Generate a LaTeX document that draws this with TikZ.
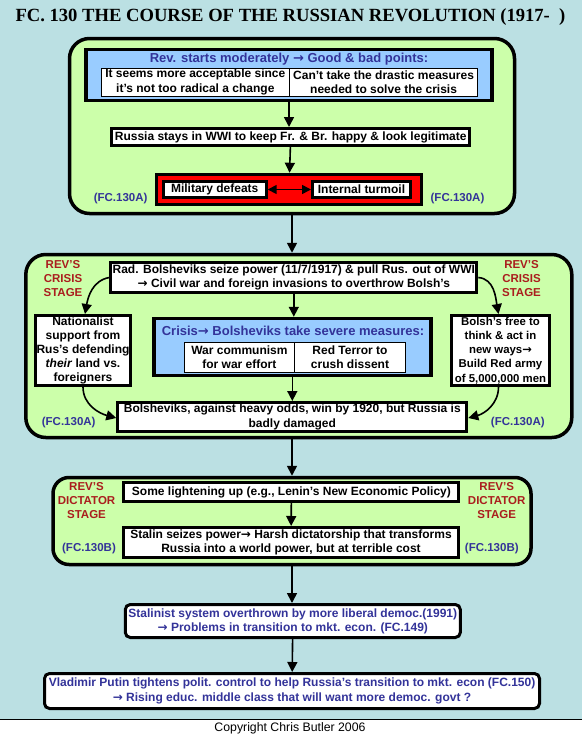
\documentclass[tikz,border=0pt]{standalone}
\usepackage{fontspec}
\setmainfont{Liberation Sans}
\newfontfamily\titlefont{Liberation Serif}
\newfontfamily\arrowfont{DejaVu Sans}
\newcommand{\goesto}{{\arrowfont\bfseries →}}
\usepackage{tikz}
\usetikzlibrary{shapes.geometric, arrows.meta}
\definecolor{bgteal}{RGB}{187,224,227}
\definecolor{stagegreen}{RGB}{204,255,170}
\definecolor{boxblue}{RGB}{153,204,255}
\definecolor{headblue}{RGB}{51,51,153}
\definecolor{labelred}{RGB}{170,30,30}
\tikzstyle{stage} = [rectangle, rounded corners=20pt, draw=black, line width=3.5pt, fill=stagegreen]
\tikzstyle{whitebox} = [rectangle, draw=black, line width=3pt, fill=white, align=center, inner sep=1pt, font=\bfseries\fontsize{12}{14.2}\selectfont]
\tikzstyle{bluebox} = [rectangle, draw=black, line width=3.5pt, fill=boxblue]
\tikzstyle{redbox} = [rectangle, draw=black, line width=3.5pt, fill=red]
\tikzstyle{cell} = [rectangle, draw=black, line width=0.8pt, fill=white, align=center, inner sep=1pt, font=\bfseries\fontsize{12}{14.2}\selectfont]
\tikzstyle{bluehead} = [text=headblue, font=\bfseries\fontsize{13}{15}\selectfont]
\tikzstyle{stagelabel} = [text=labelred, align=center, font=\bfseries\fontsize{11.5}{14}\selectfont]
\tikzstyle{fclabel} = [text=headblue, font=\bfseries\fontsize{11.5}{13}\selectfont]
\tikzstyle{arrow} = [line width=1.6pt, -{Triangle[length=10pt,width=10pt]}]
\tikzstyle{dblarrow} = [line width=1.6pt, {Triangle[length=9pt,width=9pt]}-{Triangle[length=9pt,width=9pt]}]

\begin{document}
\begin{tikzpicture}[x=1pt, y=-1pt, node distance=70pt]
		\useasboundingbox (0,0) rectangle (582,736);
		\fill[bgteal] (0,0) rectangle (582,719);
		\draw[line width=0.8pt] (0,719) -- (582,719);
		
		\node (title) at (290.5,17) {\titlefont\bfseries\fontsize{18.6}{22}\selectfont FC. 130 THE COURSE OF THE RUSSIAN REVOLUTION (1917-\ \ )};
		
		% moderate stage
		\node (stage1) [stage, minimum width=445pt, minimum height=175pt] at (292,126) {};
		\node (goodbad) [bluebox, minimum width=406pt, minimum height=51pt] at (289,75) {};
		\node (goodbadhead) [bluehead] at (289,59) {Rev. starts moderately \goesto{} Good \& bad points:};
		\node (good) [cell, minimum width=188pt, minimum height=28pt] at (195.3,82) {It seems more acceptable since\\it's not too radical a change};
		\node (bad) [cell, minimum width=188pt, minimum height=28pt] at (383.6,82) {Can't take the drastic measures\\needed to solve the crisis};
		\node (stays) [whitebox, minimum width=358pt, minimum height=17pt] at (290.7,137) {Russia stays in WWI to keep Fr. \& Br. happy \& look legitimate};
		\node (turmoil) [redbox, minimum width=265pt, minimum height=30pt] at (289,189.5) {};
		\node (defeats) [whitebox, minimum width=103pt, minimum height=16pt] at (214.7,189.5) {Military defeats};
		\node (internal) [whitebox, minimum width=98pt, minimum height=16pt] at (361.5,189.5) {Internal turmoil};
		\node (fcA1) [fclabel] at (120.6,199) {(FC.130A)};
		\node (fcA2) [fclabel] at (457.5,199) {(FC.130A)};
		
		% crisis stage
		\node (stage2) [stage, minimum width=546pt, minimum height=183pt] at (298.8,346) {};
		\node (seize) [whitebox, minimum width=366pt, minimum height=30pt] at (293.8,277.5) {Rad. Bolsheviks seize power (11/7/1917) \& pull Rus. out of WWI\\\goesto{} Civil war and foreign invasions to overthrow Bolsh's};
		\node (crisis) [bluebox, minimum width=277pt, minimum height=57pt] at (292.3,347) {};
		\node (crisishead) [bluehead] at (293,331) {Crisis\goesto{} Bolsheviks take severe measures:};
		\node (warcomm) [cell, minimum width=110pt, minimum height=30pt] at (239.4,357) {War communism\\for war effort};
		\node (terror) [cell, minimum width=111pt, minimum height=30pt] at (350,357) {Red Terror to\\crush dissent};
		\node (nationalist) [whitebox, minimum width=95pt, minimum height=70pt] at (83,350.5) {Nationalist\\support from\\Rus's defending\\\textit{their} land vs.\\foreigners};
		\node (redarmy) [whitebox, font=\bfseries\fontsize{11.4}{14.2}\selectfont, minimum width=98pt, minimum height=70pt] at (500.5,350.5) {Bolsh's free to\\think \& act in\\new ways\goesto\\Build Red army\\of 5,000,000 men};
		\node (win) [whitebox, minimum width=349pt, minimum height=29pt] at (292.3,417) {Bolsheviks, against heavy odds, win by 1920, but Russia is\\badly damaged};
		\node (crisisL) [stagelabel] at (63,279) {REV'S\\CRISIS\\STAGE};
		\node (crisisR) [stagelabel] at (521.5,279) {REV'S\\CRISIS\\STAGE};
		\node (fcA3) [fclabel] at (68.7,423) {(FC.130A)};
		\node (fcA4) [fclabel] at (517.8,423) {(FC.130A)};
		
		% dictator stage
		\node (stage3) [stage, rounded corners=16pt, minimum width=478pt, minimum height=87pt] at (292,521) {};
		\node (lighten) [whitebox, minimum width=335pt, minimum height=19pt] at (291.4,492) {Some lightening up (e.g., Lenin's New Economic Policy)};
		\node (stalin) [whitebox, minimum width=335pt, minimum height=30pt] at (291,542.5) {Stalin seizes power\goesto{} Harsh dictatorship that transforms\\Russia into a world power, but at terrible cost};
		\node (dictL) [stagelabel] at (86.5,501) {REV'S\\DICTATOR\\STAGE};
		\node (dictR) [stagelabel] at (496.7,501) {REV'S\\DICTATOR\\STAGE};
		\node (fcB1) [fclabel] at (89,549) {(FC.130B)};
		\node (fcB2) [fclabel] at (491.8,549) {(FC.130B)};
		
		% after
		\node (stalinist) [whitebox, rounded corners=5pt, text=headblue, minimum width=335pt, minimum height=33pt] at (292.8,621) {Stalinist system overthrown by more liberal democ.(1991)\\\goesto{} Problems in transition to mkt. econ. (FC.149)};
		\node (putin) [whitebox, rounded corners=5pt, text=headblue, minimum width=495pt, minimum height=35pt, below of=stalinist, xshift=-0.8pt] {Vladimir Putin tightens polit. control to help Russia's transition to mkt. econ (FC.150)\\\goesto{} Rising educ. middle class that will want more democ. govt ?};
		\node (copyright) [font=\fontsize{12.3}{14}\selectfont] at (290,728) {Copyright Chris Butler 2006};
		
		\draw [arrow] (goodbad.south) -- (goodbad.south |- stays.north);
		\draw [arrow] (stays) -- (turmoil);
		\draw [dblarrow] (defeats) -- (internal);
		\draw [arrow] (stage1.south) -- (stage1.south |- stage2.north);
		\draw [arrow] (seize.south) -- (seize.south |- crisis.north);
		\draw [arrow] (seize.west) to[out=190, in=80] ([xshift=2pt]nationalist.north);
		\draw [arrow] (seize.east) to[out=-5, in=100] ([xshift=-2pt]redarmy.north);
		\draw [arrow] (crisis.south) -- (crisis.south |- win.north);
		\draw [arrow] (nationalist.south) to[out=-90, in=165] ([yshift=-1pt]win.west);
		\draw [arrow] ([xshift=-2pt]redarmy.south) to[out=-90, in=15] ([yshift=-1pt]win.east);
		\draw [arrow] (stage3.north |- stage2.south) -- (stage3.north);
		\draw [arrow] (lighten) -- (stalin);
		\draw [arrow] (stage3.south) -- (stage3.south |- stalinist.north);
		\draw [arrow] (stalinist) -- (putin);
	\end{tikzpicture}
\end{document}
